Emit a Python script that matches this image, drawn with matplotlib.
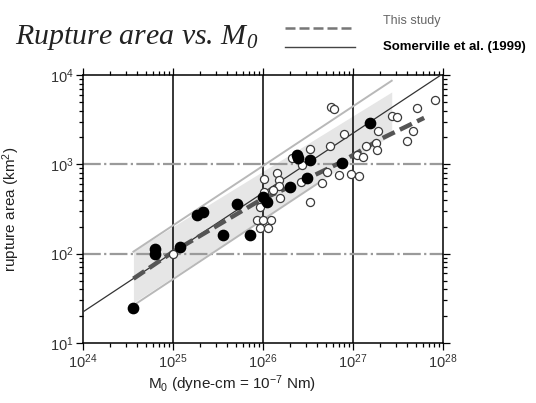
import numpy as np
import matplotlib
matplotlib.use('Agg')
import matplotlib.pyplot as plt
from matplotlib.lines import Line2D

plt.rcParams['font.family'] = ['Liberation Sans', 'DejaVu Sans']

# log10 of M0 (dyne-cm) and log10 of rupture area (km^2)
filled_logm = [24.56, 24.80, 24.80, 25.08, 25.27, 25.33, 25.56, 25.71, 25.86,
               26.00, 26.04, 26.30, 26.38, 26.39, 26.49, 26.52, 26.88, 27.19]
filled_loga = [1.39, 2.05, 2.00, 2.08, 2.43, 2.47, 2.21, 2.56, 2.21,
               2.63, 2.58, 2.75, 3.10, 3.07, 2.85, 3.05, 3.02, 3.46]

open_logm = [25.00, 25.93, 26.00, 26.09, 25.97, 26.06, 25.97, 26.01, 26.01,
             26.16, 26.18, 26.18, 26.11, 26.19, 26.52, 26.42, 26.66, 26.71,
             26.84, 26.98, 27.07, 26.32, 26.43, 26.52, 26.74, 26.90, 26.76,
             26.79, 27.14, 27.04, 27.11, 27.26, 27.27, 27.28, 27.43, 27.49,
             27.60, 27.67, 27.71, 27.91]
open_loga = [2.00, 2.38, 2.38, 2.38, 2.29, 2.29, 2.52, 2.69, 2.84,
             2.90, 2.83, 2.76, 2.71, 2.62, 2.58, 2.80, 2.79, 2.91,
             2.88, 2.89, 2.87, 3.07, 2.99, 3.17, 3.20, 3.34, 3.64,
             3.62, 3.21, 3.10, 3.08, 3.24, 3.16, 3.37, 3.54, 3.53,
             3.26, 3.37, 3.63, 3.72]

# this study: fitted scaling (dashed)
fit_logm = [24.56, 25.00, 25.97, 26.41, 26.86, 27.30, 27.79]
fit_loga = [1.72, 2.02, 2.60, 2.80, 3.02, 3.28, 3.52]

# shaded band of this study
band_logm = [24.56, 27.43]
band_lo = [1.45, 3.33]
band_hi = [2.03, 3.81]

# Somerville et al. (1999): A = 2.23e-15 * M0^(2/3)
som_coef = 2.23e-15
som_factor = 2.0
upper_range = [10**24.56, 10**27.43]
lower_range = [10**24.56, 10**26.65]

fig = plt.figure(figsize=(5.36, 4.03), dpi=100)
ax = fig.add_axes([0.1549, 0.1489, 0.6716, 0.665])

ax.set_xscale('log')
ax.set_yscale('log')
ax.set_xlim(1e24, 1e28)
ax.set_ylim(10, 1e4)

bx = 10 ** np.array(band_logm)
ax.fill_between(bx, 10 ** np.array(band_lo), 10 ** np.array(band_hi),
                color='#e6e6e6', lw=0, zorder=1)

# grid
for v in [1e25, 1e26, 1e27]:
    ax.axvline(v, color='black', lw=1.1, zorder=2)
for v in [1e2, 1e3]:
    ax.axhline(v, color='#9a9a9a', lw=1.6, ls=(0, (8, 1.5, 1, 1.5)), zorder=2)

m = np.logspace(24, 28, 100)
ax.plot(m, som_coef * m ** (2 / 3), color='#333333', lw=0.9, zorder=3)
mu = np.logspace(np.log10(upper_range[0]), np.log10(upper_range[1]), 50)
ax.plot(mu, som_factor * som_coef * mu ** (2 / 3), color='#b8b8b8', lw=1.4, zorder=3)
ml = np.logspace(np.log10(lower_range[0]), np.log10(lower_range[1]), 50)
ax.plot(ml, som_coef * ml ** (2 / 3) / som_factor, color='#b8b8b8', lw=1.4, zorder=3)

ax.plot(10 ** np.array(fit_logm), 10 ** np.array(fit_loga), color='#555555',
        lw=3.2, ls=(0, (3, 1.3)), zorder=4)

ax.scatter(10 ** np.array(open_logm), 10 ** np.array(open_loga), s=34,
           facecolor='white', edgecolor='#3a3a3a', linewidth=0.9, zorder=5)
ax.scatter(10 ** np.array(filled_logm), 10 ** np.array(filled_loga), s=55,
           color='black', zorder=6)

for s in ax.spines.values():
    s.set_linewidth(1.1)
ax.tick_params(which='both', direction='out', top=True, right=True,
               labeltop=False, labelright=False, labelsize=10.5, width=0.9,
               labelcolor='#333333')
ax.tick_params(which='major', length=5, pad=2)
ax.tick_params(which='minor', length=3)

ax.set_xlabel(r'$\mathdefault{M_0}$ (dyne-cm = $\mathdefault{10^{-7}}$ Nm)', fontsize=11,
              color='#222222')
ax.xaxis.set_label_coords(0.414, -0.112)
ax.set_ylabel(r'rupture area (km$\mathdefault{^2}$)', fontsize=11, color='#222222')
ax.yaxis.set_label_coords(-0.17, 0.5)

# title and legend
fig.text(0.028, 0.891, r'Rupture area vs. $\mathdefault{M_0}$', fontsize=21.5,
         family='Liberation Serif', style='italic', va='baseline', color='#222222')
fig.add_artist(Line2D([0.532, 0.662], [0.9305, 0.9305], color='#777777', lw=1.8,
                      ls=(0, (4, 1.6))))
fig.add_artist(Line2D([0.532, 0.662], [0.883, 0.883], color='#444444', lw=1.0))
fig.text(0.7146, 0.94, 'This study', fontsize=9, color='#666666', va='baseline')
fig.text(0.7146, 0.876, 'Somerville et al. (1999)', fontsize=9.5, fontweight='bold',
         color='black', va='baseline')

fig.savefig('out.png', dpi=100)
